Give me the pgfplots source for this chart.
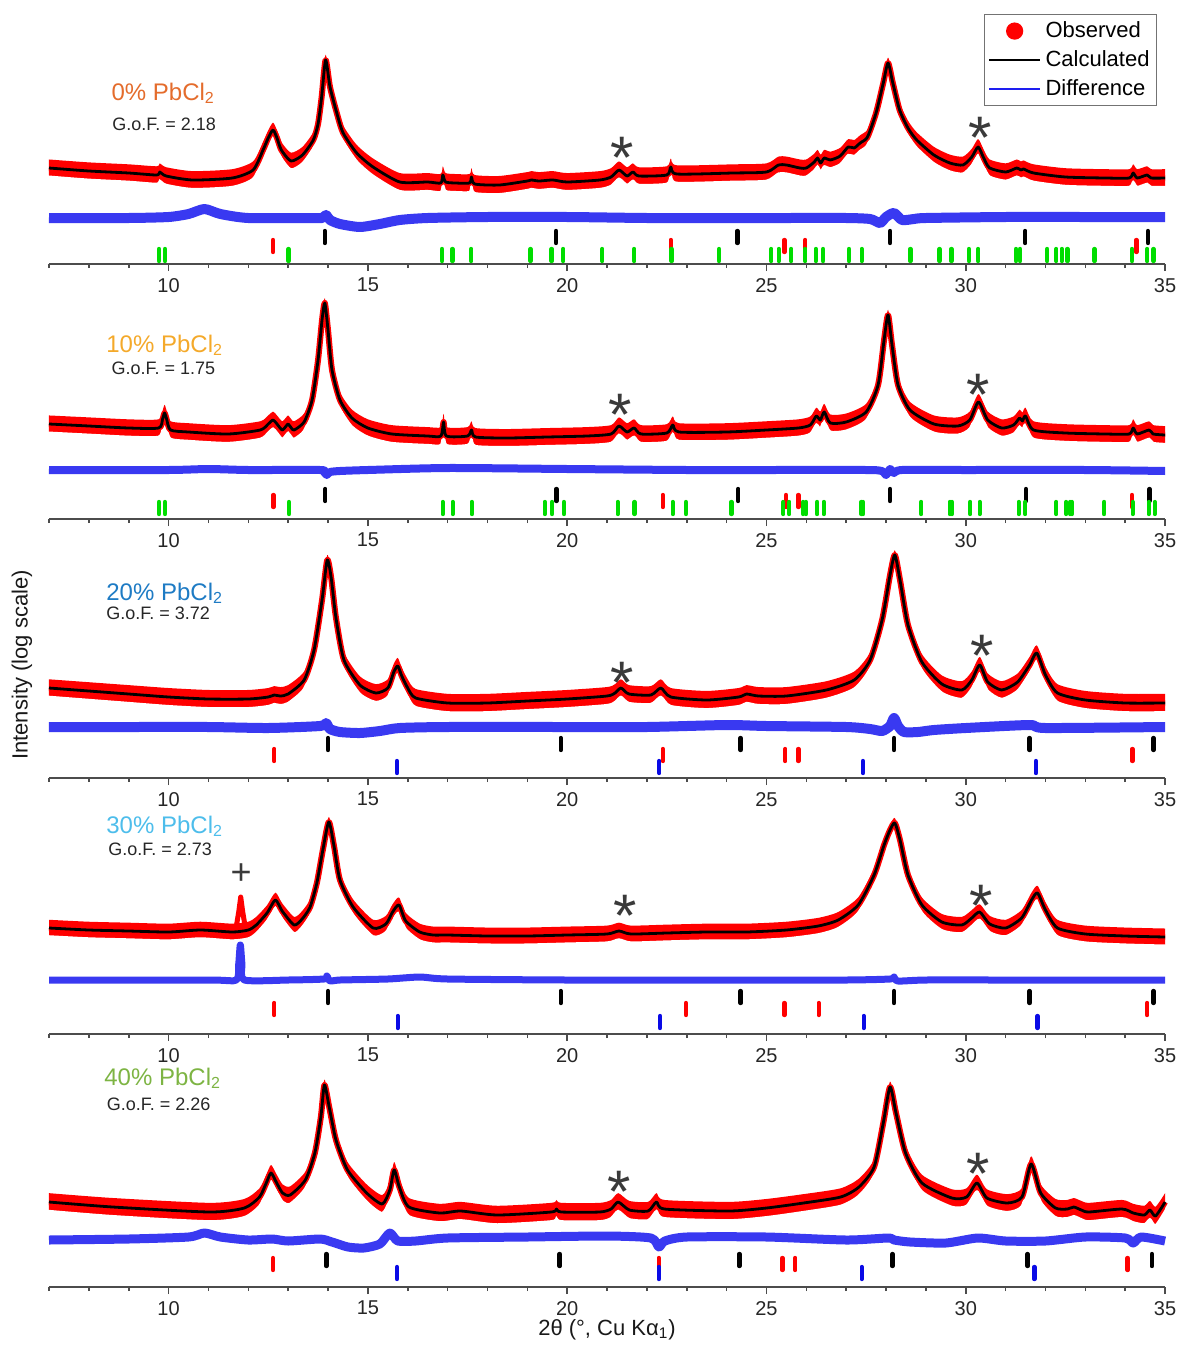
\documentclass[border=0pt]{standalone}
\usepackage{pgfplots}
\pgfplotsset{compat=1.18}
\usepackage{pgfplotstable}
\usepackage{fontspec}
\setmainfont{Liberation Sans}
\definecolor{c0}{HTML}{E46C2C}
\definecolor{c10}{HTML}{F4A92A}
\definecolor{c20}{HTML}{1E7BC4}
\definecolor{c30}{HTML}{4DBDEB}
\definecolor{c40}{HTML}{7DB443}
\definecolor{obs}{HTML}{FF0000}
\definecolor{dif}{HTML}{1E1EF0}
\definecolor{tgreen}{HTML}{00DD00}
\definecolor{tblue}{HTML}{0A0AE6}
\definecolor{ann}{HTML}{3A3A3A}

\pgfplotstableread[row sep=\\]{x y\\
7.0 96\\ 8.0 93\\ 9.0 91\\ 9.7 89\\ 9.78 92\\ 9.94 88\\ 10.6 84\\ 11.6 86\\ 12.12 94\\ 12.37 114\\ 12.5 126\\ 12.62 134\\ 12.72 126\\ 12.83 114\\ 13.07 103\\ 13.36 109\\ 13.63 124\\ 13.75 140\\ 13.84 167\\ 13.94 204\\ 14.05 177\\ 14.22 151\\ 14.38 131\\ 14.72 111\\ 15.13 97\\ 15.8 82\\ 16.5 82\\ 16.83 81\\ 16.88 89\\ 16.95 82\\ 17.2 81\\ 17.55 81\\ 17.6 87\\ 17.68 80\\ 18.3 79\\ 19.0 83\\ 19.1 84\\ 19.3 83\\ 19.64 84\\ 20.0 82\\ 20.82 84\\ 21.1 87\\ 21.3 94\\ 21.5 88\\ 21.65 92\\ 21.8 88\\ 22.5 89\\ 22.6 97\\ 22.75 90\\ 24.16 91\\ 25.0 92\\ 25.3 99\\ 25.5 99\\ 25.84 96\\ 26.0 96\\ 26.2 102\\ 26.28 106\\ 26.36 101\\ 26.45 106\\ 26.6 104\\ 26.85 108\\ 27.05 117\\ 27.2 116\\ 27.35 121\\ 27.52 126\\ 27.65 139\\ 27.77 154\\ 27.93 181\\ 28.05 201\\ 28.17 181\\ 28.34 154\\ 28.55 136\\ 28.77 124\\ 29.2 109\\ 29.6 101\\ 29.93 99\\ 30.15 107\\ 30.31 117\\ 30.45 106\\ 30.6 96\\ 31.0 92\\ 31.28 96\\ 31.38 94\\ 31.45 95\\ 31.7 91\\ 32.5 87\\ 33.5 86\\ 34.1 86\\ 34.2 91\\ 34.3 86\\ 34.55 89\\ 34.65 86\\ 35.0 86\\
}\calcA

\pgfplotstableread[row sep=\\]{x y\\
7.0 95\\ 8.0 93\\ 9.0 91\\ 9.75 91\\ 9.85 100\\ 9.9 106\\ 9.95 100\\ 10.05 89\\ 10.5 87\\ 11.5 85\\ 12.3 89\\ 12.5 95\\ 12.62 99\\ 12.72 95\\ 12.85 89\\ 12.95 93\\ 13.0 95\\ 13.08 91\\ 13.15 89\\ 13.4 97\\ 13.6 119\\ 13.75 159\\ 13.85 199\\ 13.92 216\\ 14.0 189\\ 14.1 149\\ 14.3 119\\ 14.6 101\\ 15.0 91\\ 15.6 85\\ 16.5 83\\ 16.83 83\\ 16.9 97\\ 16.97 83\\ 17.5 83\\ 17.6 89\\ 17.7 82\\ 18.5 81\\ 19.5 82\\ 20.5 83\\ 21.1 85\\ 21.3 93\\ 21.5 87\\ 21.68 91\\ 21.85 85\\ 22.5 86\\ 22.65 94\\ 22.8 87\\ 24.0 87\\ 25.0 89\\ 25.8 91\\ 26.1 94\\ 26.25 103\\ 26.35 99\\ 26.45 107\\ 26.6 96\\ 27.0 97\\ 27.5 107\\ 27.8 134\\ 27.95 179\\ 28.05 204\\ 28.15 174\\ 28.3 134\\ 28.6 109\\ 29.2 95\\ 29.8 93\\ 30.1 99\\ 30.32 117\\ 30.55 99\\ 30.9 91\\ 31.2 94\\ 31.35 101\\ 31.42 98\\ 31.5 103\\ 31.7 89\\ 32.5 86\\ 33.5 85\\ 34.1 85\\ 34.2 91\\ 34.3 85\\ 34.6 89\\ 34.7 85\\ 35.0 84\\
}\calcB

\pgfplotstableread[row sep=\\]{x y\\
7.0 90\\ 8.0 87\\ 9.0 84\\ 10.0 81\\ 11.0 79\\ 12.0 79\\ 12.5 81\\ 12.65 83\\ 12.8 82\\ 13.0 84\\ 13.4 98\\ 13.65 128\\ 13.85 178\\ 13.98 218\\ 14.08 200\\ 14.2 160\\ 14.4 118\\ 14.8 93\\ 15.2 85\\ 15.5 90\\ 15.65 106\\ 15.75 112\\ 15.85 102\\ 16.0 90\\ 16.2 80\\ 17.0 75\\ 18.0 75\\ 19.0 77\\ 20.0 79\\ 21.0 82\\ 21.2 85\\ 21.35 90\\ 21.55 84\\ 22.1 83\\ 22.35 90\\ 22.6 81\\ 23.5 78\\ 24.3 81\\ 24.5 84\\ 24.8 82\\ 25.5 82\\ 26.5 88\\ 27.2 98\\ 27.6 118\\ 27.9 158\\ 28.1 203\\ 28.22 223\\ 28.35 198\\ 28.55 153\\ 28.9 116\\ 29.4 94\\ 29.9 88\\ 30.15 98\\ 30.35 113\\ 30.55 96\\ 30.9 88\\ 31.3 96\\ 31.6 113\\ 31.78 125\\ 32.0 103\\ 32.3 85\\ 33.0 78\\ 34.0 75\\ 35.0 75\\
}\calcC

\pgfplotstableread[row sep=\\]{x y\\
7.0 106\\ 8.0 104\\ 9.0 103\\ 10.0 102\\ 10.8 104\\ 11.6 102\\ 12.0 104\\ 12.2 109\\ 12.47 121\\ 12.68 134\\ 12.85 123\\ 13.15 109\\ 13.35 115\\ 13.55 127\\ 13.72 151\\ 13.87 184\\ 14.02 212\\ 14.15 188\\ 14.3 154\\ 14.63 127\\ 15.13 106\\ 15.45 110\\ 15.62 122\\ 15.78 129\\ 15.95 113\\ 16.3 102\\ 16.64 99\\ 17.0 99\\ 18.0 98\\ 19.0 98\\ 20.0 99\\ 21.0 100\\ 21.3 103\\ 21.6 100\\ 22.5 101\\ 23.5 102\\ 24.5 102\\ 25.5 104\\ 26.3 108\\ 26.8 114\\ 27.3 129\\ 27.7 159\\ 27.95 189\\ 28.1 204\\ 28.22 211\\ 28.35 194\\ 28.55 159\\ 28.9 129\\ 29.4 112\\ 29.9 109\\ 30.15 116\\ 30.35 122\\ 30.6 110\\ 31.0 106\\ 31.4 116\\ 31.65 134\\ 31.8 141\\ 32.0 124\\ 32.3 106\\ 33.0 100\\ 34.0 98\\ 35.0 97\\
}\calcD

\pgfplotstableread[row sep=\\]{x y\\
7.0 85\\ 8.6 80\\ 11.03 75\\ 11.9 79\\ 12.28 90\\ 12.45 104\\ 12.57 114\\ 12.7 105\\ 12.86 94\\ 13.05 92\\ 13.43 107\\ 13.67 134\\ 13.82 170\\ 13.91 202\\ 14.03 180\\ 14.2 147\\ 14.49 117\\ 14.97 94\\ 15.36 83\\ 15.55 97\\ 15.66 117\\ 15.79 100\\ 16.03 80\\ 16.8 74\\ 17.33 76\\ 18.24 72\\ 19.6 75\\ 19.73 78\\ 19.85 75\\ 20.82 75\\ 21.1 78\\ 21.28 85\\ 21.56 77\\ 22.03 76\\ 22.24 85\\ 22.44 78\\ 24.07 76\\ 25.0 79\\ 25.93 84\\ 26.86 90\\ 27.32 100\\ 27.7 120\\ 27.93 164\\ 28.1 200\\ 28.25 174\\ 28.49 134\\ 28.9 104\\ 29.65 89\\ 30.02 90\\ 30.28 104\\ 30.53 89\\ 31.04 84\\ 31.41 90\\ 31.64 123\\ 31.88 94\\ 32.25 79\\ 32.55 78\\ 32.71 80\\ 32.9 77\\ 33.09 75\\ 33.92 78\\ 34.2 74\\ 34.48 72\\ 34.62 77\\ 34.76 71\\ 35.0 85\\
}\calcE

\pgfplotsset{
  panel/.style={
    x=19.93pt, y=0.5pt, xmin=7, xmax=35, ymin=0, ymax=230,
    axis x line=bottom, axis y line=none, ytick=\empty, axis on top,
    axis line style={-, line width=0.8pt, draw=black!70},
    xtick={10,15,...,35}, minor xtick={7,8,...,35},
    tick align=outside, major tick length=3.5pt, minor tick length=2pt,
    tick style={black!70, line width=0.8pt},
    xticklabel style={font=\fontsize{10}{12}\selectfont, text=black!85},
    /pgf/number format/assume math mode=true,
    clip=false, anchor=south west,
  },
  calcline/.style={black, line width=1.4pt, line join=round, smooth, tension=0.4, forget plot},
  difline/.style={dif, opacity=0.88, line width=#1, line join=round, smooth, tension=0.4, forget plot},
  refl/.style={only marks, mark=|, mark size=3pt, mark options={line width=2.2pt, line cap=round}, forget plot},
}
\tikzset{
  ptitle/.style={anchor=base west, inner sep=0pt, font=\fontsize{12}{14}\selectfont},
  pgof/.style={anchor=base west, inner sep=0pt, text=black!85, font=\fontsize{9}{11}\selectfont},
}
\newcommand{\aster}[2]{\node[ann, anchor=base, font=\fontsize{30}{30}\selectfont] at (axis cs:#1,#2-28) {*};}
% observed: scatter band read as about +-9 px around the fitted curve (narrower at high intensity)
\newcommand{\obsband}[1]{%
\addplot[draw=none, fill=obs, smooth, tension=0.4, forget plot] table[y expr={\thisrow{y}+9-0.03*(\thisrow{y}-80)}]{#1} \closedcycle;
\addplot[draw=white, line width=1pt, fill=white, smooth, tension=0.4, forget plot] table[y expr={\thisrow{y}-9+0.03*(\thisrow{y}-80)}]{#1} \closedcycle;
\addplot[obs, line width=3pt, line join=round, smooth, tension=0.4, forget plot] table {#1};
}

\begin{document}
\begin{tikzpicture}
\useasboundingbox (-24.5pt,132pt) rectangle (566pt,-540.5pt);

% ---------- panel 1: 0% ----------
\begin{axis}[panel, at={(0pt,0pt)},
  legend style={at={(axis cs:34.8,250)}, anchor=north east, draw=black!55, line width=0.6pt,
    font=\fontsize{11}{12}\selectfont, inner sep=1.5pt, row sep=1pt},
  legend cell align=left]
\addlegendimage{legend image code/.code={\fill[obs] (0.45cm,0cm) circle (4pt);}}
\addlegendentry{Observed}
\addlegendimage{legend image code/.code={\draw[black, line width=1.3pt] (0cm,0cm) -- (0.9cm,0cm);}}
\addlegendentry{Calculated}
\addlegendimage{legend image code/.code={\draw[dif, line width=0.6pt] (0cm,0cm) -- (0.9cm,0cm);}}
\addlegendentry{Difference}
\obsband{\calcA}
\addplot[calcline] table {\calcA};
\addplot[difline=5pt] coordinates {(7,46)(9,46)(10,47)(10.5,50)(10.9,55)(11.3,50)(12,46)(13.5,46)(13.85,46)(13.95,49)(14.05,44)(14.3,40)(14.8,37)(15.3,40)(15.8,44)(16.5,46)(18,47)(20,47)(22,46)(24,46)(25.5,46)(27,46)(27.6,45)(27.85,41)(28.0,47)(28.2,51)(28.4,44)(28.7,45)(29,46)(31,47)(33,47)(35,47)};
\addplot[refl, black] coordinates {(13.92,27)(19.72,27)(24.27,27)(28.10,27)(31.49,27)(34.57,27)};
\addplot[refl, obs] coordinates {(12.62,18)(22.6,18)(25.45,18)(25.97,18)(34.28,18)};
\addplot[refl, tgreen] coordinates {(9.76,9)(9.91,9)(13.01,9)(16.86,9)(17.12,9)(17.59,9)(19.08,9)(19.61,9)(19.90,9)(20.88,9)(21.68,9)(22.62,9)(23.81,9)(25.12,9)(25.31,9)(25.62,9)(25.97,9)(26.24,9)(26.42,9)(27.07,9)(27.39,9)(28.61,9)(29.34,9)(29.64,9)(30.08,9)(30.31,9)(31.26,9)(31.36,9)(32.04,9)(32.27,9)(32.41,9)(32.55,9)(33.23,9)(34.17,9)(34.55,9)(34.71,9)};
\node[ptitle, text=c0] at (axis cs:8.56,164) {0\% PbCl\textsubscript{2}};
\node[pgof] at (axis cs:8.58,134) {G.o.F. = 2.18};
\aster{21.38}{114}
\aster{30.36}{134}
\end{axis}

% ---------- panel 2: 10% ----------
\begin{axis}[panel, at={(0pt,-127.5pt)}]
\obsband{\calcB}
\addplot[calcline] table {\calcB};
\addplot[difline=4pt] coordinates {(7,49)(10,49)(11,50)(12,49)(13.8,49)(13.9,47)(13.97,44)(14.05,47)(14.3,48)(15,49)(17,51)(20,50)(23,49)(25,49)(27.5,49)(27.9,48)(28.0,44)(28.1,50)(28.2,46)(28.4,49)(30,49)(33,49)(35,48)};
\addplot[refl, black] coordinates {(13.93,24)(19.73,24)(24.29,24)(28.10,24)(31.51,24)(34.61,24)};
\addplot[refl, obs] coordinates {(12.63,18)(22.40,18)(25.49,18)(25.80,18)(34.17,18)};
\addplot[refl, tgreen] coordinates {(9.76,11)(9.91,11)(13.02,11)(16.88,11)(17.13,11)(17.61,11)(19.44,11)(19.62,11)(19.92,11)(21.27,11)(21.69,11)(22.65,11)(22.98,11)(24.12,11)(25.42,11)(25.57,11)(25.92,11)(25.99,11)(26.27,11)(26.44,11)(27.38,11)(27.42,11)(28.88,11)(29.60,11)(29.65,11)(30.11,11)(30.35,11)(31.33,11)(31.49,11)(32.27,11)(32.52,11)(32.62,11)(32.66,11)(33.47,11)(34.19,11)(34.59,11)(34.74,11)};
\node[ptitle, text=c10] at (axis cs:8.43,167) {10\% PbCl\textsubscript{2}};
\node[pgof] at (axis cs:8.56,145) {G.o.F. = 1.75};
\aster{21.33}{112}
\aster{30.31}{132}
\end{axis}

% ---------- panel 3: 20% ----------
\begin{axis}[panel, at={(0pt,-257pt)}]
\obsband{\calcC}
\addplot[calcline] table {\calcC};
\addplot[difline=5pt] coordinates {(7,51)(9,51)(11,51)(12.5,50)(13.8,52)(13.95,55)(14.05,49)(14.3,46)(14.8,45)(15.3,47)(15.8,50)(17,51)(20,51)(22,51)(24,53)(25,52)(27,51)(27.6,49)(27.9,47)(28.1,52)(28.2,60)(28.3,52)(28.45,46)(28.8,46)(29.2,48)(30,50)(31.6,53)(32,50)(35,51)};
\addplot[refl, black] coordinates {(14.0,34)(19.84,34)(24.35,34)(28.2,34)(31.6,34)(34.71,34)};
\addplot[refl, obs] coordinates {(12.65,23)(22.4,23)(25.47,23)(25.8,23)(34.18,23)};
\addplot[refl, tblue] coordinates {(15.73,11)(22.31,11)(27.42,11)(31.76,11)};
\node[ptitle, text=c20] at (axis cs:8.43,178) {20\% PbCl\textsubscript{2}};
\node[pgof] at (axis cs:8.43,159) {G.o.F. = 3.72};
\aster{21.38}{103}
\aster{30.41}{130}
\end{axis}

% ---------- panel 4: 30% ----------
\begin{axis}[panel, at={(0pt,-385pt)}]
\obsband{\calcD}
\addplot[obs, line width=2.5pt, line join=round, forget plot] coordinates {(11.68,103)(11.76,122)(11.81,137)(11.86,122)(11.94,103)};
\addplot[calcline] table {\calcD};
\addplot[difline=3.5pt] coordinates {(7,54)(11,54)(11.7,54)(11.76,70)(11.8,89)(11.84,70)(11.9,54)(13,54)(13.9,55)(13.97,58)(14.05,53)(14.3,54)(15.5,55)(16.3,57)(17,55)(20,54)(24,54)(27,54)(28.1,55)(28.2,57)(28.3,53)(29,54)(31,54)(35,54)};
\addplot[refl, black] coordinates {(14.0,37)(19.84,37)(24.35,37)(28.2,37)(31.6,37)(34.71,37)};
\addplot[refl, obs] coordinates {(12.65,25)(22.98,25)(25.45,25)(26.31,25)(34.55,25)};
\addplot[refl, tblue] coordinates {(15.75,12)(22.33,12)(27.44,12)(31.8,12)};
\node[ptitle, text=c30] at (axis cs:8.43,201) {30\% PbCl\textsubscript{2}};
\node[pgof] at (axis cs:8.48,179) {G.o.F. = 2.73};
\node[ann, anchor=base, font=\fontsize{18}{18}\selectfont] at (axis cs:11.82,150) {+};
\aster{21.45}{126}
\aster{30.38}{136}
\end{axis}

% ---------- panel 5: 40% ----------
\begin{axis}[panel, at={(0pt,-511.5pt)}]
\obsband{\calcE}
\addplot[calcline] table {\calcE};
\addplot[difline=4.5pt] coordinates {(7,47)(9,48)(10.5,50)(10.9,54)(11.3,50)(12,47)(12.6,48)(13,46)(13.8,48)(14.1,45)(14.5,40)(14.9,39)(15.3,43)(15.55,54)(15.75,46)(16.2,46)(17,49)(19,50)(21,51)(22.1,49)(22.3,40)(22.45,46)(23,50)(25,50)(27,47)(28.05,49)(28.2,47)(28.6,45)(29.5,44)(30.3,49)(31,46)(32,46)(33,50)(34,49)(34.2,44)(34.4,50)(35,46)};
\addplot[refl, black] coordinates {(13.96,27)(19.81,27)(24.32,27)(28.16,27)(31.55,27)(34.67,27)};
\addplot[refl, obs] coordinates {(12.62,23)(22.30,23)(25.40,23)(25.72,23)(34.06,23)};
\addplot[refl, tblue] coordinates {(15.73,14)(22.30,14)(27.39,14)(31.72,14)};
\node[ptitle, text=c40] at (axis cs:8.38,202) {40\% PbCl\textsubscript{2}};
\node[pgof] at (axis cs:8.44,177) {G.o.F. = 2.26};
\aster{21.30}{103}
\aster{30.31}{121}
\end{axis}

\node[rotate=90, text=black!90, font=\fontsize{11}{13}\selectfont] at (-13.5pt,-200.5pt) {Intensity (log scale)};
\node[text=black!90, font=\fontsize{11}{13}\selectfont] at (279pt,-533pt) {2θ (°, Cu Kα\textsubscript{1})};
\end{tikzpicture}
\end{document}
